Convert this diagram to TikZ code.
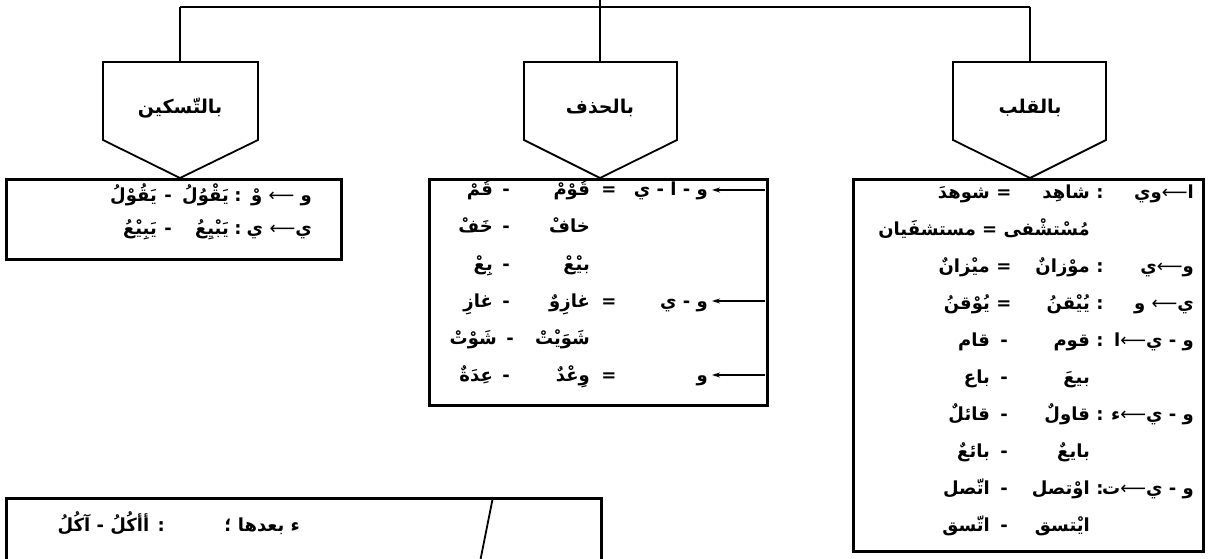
\documentclass[tikz,border=0pt]{standalone}
\usepackage{fontspec}
\newfontfamily\arabicfont[Script=Arabic]{DejaVu Sans Bold}
\newfontfamily\arrowfont{DejaVu Sans}
\TeXXeTstate=1
\usetikzlibrary{arrows.meta}
\newcommand{\AR}[1]{\beginR #1\endR}
\newcommand{\LA}{{\arrowfont ⟵}}
\tikzset{
  boxline/.style={draw, line width=2.6pt, inner sep=0pt, anchor=north west},
  pentline/.style={draw, line width=1.8pt, line join=miter},
  conn/.style={line width=2pt},
  ar/.style={font=\arabicfont\fontsize{18}{21}\selectfont, inner sep=0pt, anchor=base east},
  arc/.style={font=\arabicfont\fontsize{18}{21}\selectfont, inner sep=0pt, anchor=base},
  lbl/.style={font=\arabicfont\fontsize{19}{21}\selectfont, inner sep=0pt},
  tarrow/.style={line width=1.1pt, -{Stealth[length=8pt,width=5pt]}},
}
\begin{document}
\begin{tikzpicture}[x=1pt,y=-1pt]
\useasboundingbox (0,0) rectangle (1208,559);
\clip (0,0) rectangle (1208,559);

% ---- top connectors
\coordinate (top) at (600,0);
\coordinate (hm) at (600,7);
\coordinate (hl) at (180,7);
\coordinate (hr) at (1030,7);
\coordinate (pL) at (180,62);
\coordinate (pM) at (600,62);
\coordinate (pR) at (1030,62);
\draw[conn] (top) -- (hm);
\draw[conn] (hl) -- (hr);
\draw[conn] (hl) -- (pL);
\draw[conn] (hm) -- (pM);
\draw[conn] (hr) -- (pR);

% ---- pentagons
\draw[pentline] (103,62) -- (258,62) -- (258,140) -- (180,178) -- (103,140) -- cycle;
\draw[pentline] (524,62) -- (677,62) -- (677,140) -- (600,178) -- (524,140) -- cycle;
\draw[pentline] (953,62) -- (1106,62) -- (1106,140) -- (1030,178) -- (953,140) -- cycle;
\node[lbl] (lblL) at (180,108) {\AR{بالتّسكين}};
\node[lbl] (lblM) at (600,108) {\AR{بالحذف}};
\node[lbl] (lblR) at (1030,108) {\AR{بالقلب}};

% ---- boxes
\node[boxline, minimum width=335pt, minimum height=80pt] (lbox) at (5,178) {};
\node[boxline, minimum width=338pt, minimum height=226pt] (mbox) at (428,178) {};
\node[boxline, minimum width=350pt, minimum height=372pt] (rbox) at (852,178) {};
\node[boxline, minimum width=595pt, minimum height=120pt] (bbox) at (5,497) {};
\coordinate (sl1) at (493,497);
\coordinate (sl2) at (480,562);
\draw[line width=1.8pt] (sl1) -- (sl2);

% ---- left box
\node[ar] (l1r) at (312,201) {\AR{و \LA{} وْ}};
\node[arc] (l1c) at (238,201) {:};
\node[ar] (l1a) at (229,201) {\AR{يَقْوُلُ}};
\node[arc] (l1s) at (168,201) {-};
\node[ar] (l1b) at (157,201) {\AR{يَقُوْلُ}};
\node[ar] (l2r) at (312,234) {\AR{ي\LA{} ي}};
\node[arc] (l2c) at (238,234) {:};
\node[ar] (l2a) at (229,234) {\AR{يَبْيِعُ}};
\node[arc] (l2s) at (168,234) {-};
\node[ar] (l2b) at (157,234) {\AR{يَبِيْعُ}};

% ---- middle box
\coordinate (m1s) at (765,190); \coordinate (m1e) at (712,190);
\coordinate (m4s) at (765,301); \coordinate (m4e) at (712,301);
\coordinate (m6s) at (765,375); \coordinate (m6e) at (712,375);
\draw[tarrow] (m1s) -- (m1e);
\draw[tarrow] (m4s) -- (m4e);
\draw[tarrow] (m6s) -- (m6e);
\node[ar] (m1r) at (708,196) {\AR{و - ا - ي}};
\node[arc] (m1e2) at (609,196) {=};
\node[ar] (m1a) at (590,196) {\AR{قُوْمْ}};
\node[arc] (m1d) at (506,196) {-};
\node[ar] (m1b) at (493,196) {\AR{قُمْ}};
\node[ar] (m2a) at (590,233) {\AR{خافْ}};
\node[arc] (m2d) at (506,233) {-};
\node[ar] (m2b) at (493,233) {\AR{خَفْ}};
\node[ar] (m3a) at (590,270) {\AR{بيْعْ}};
\node[arc] (m3d) at (506,270) {-};
\node[ar] (m3b) at (493,270) {\AR{بِعْ}};
\node[ar] (m4r) at (708,307) {\AR{و - ي}};
\node[arc] (m4e2) at (609,307) {=};
\node[ar] (m4a) at (590,307) {\AR{غازِوٌ}};
\node[arc] (m4d) at (506,307) {-};
\node[ar] (m4b) at (493,307) {\AR{غازِ}};
\node[ar] (m5a) at (590,344) {\AR{شَوَيْتْ}};
\node[arc] (m5d) at (510,344) {-};
\node[ar] (m5b) at (497,344) {\AR{شَوْتْ}};
\node[ar] (m6r) at (708,381) {\AR{و}};
\node[arc] (m6e2) at (609,381) {=};
\node[ar] (m6a) at (590,381) {\AR{وِعْدٌ}};
\node[arc] (m6d) at (506,381) {-};
\node[ar] (m6b) at (493,381) {\AR{عِدَةٌ}};

% ---- right box
\node[ar] (q1r) at (1194,198) {\AR{ا\LA{}وي}};
\node[arc] (q1c) at (1100,198) {:};
\node[ar] (q1a) at (1090,198) {\AR{شاهِد}};
\node[arc] (q1s) at (1004,198) {=};
\node[ar] (q1b) at (990,198) {\AR{شوهدَ}};
\node[ar] (q2) at (1090,235) {\AR{مُسْتشْفى = مستشفَيان}};
\node[ar] (q3r) at (1194,272) {\AR{و\LA{}ي}};
\node[arc] (q3c) at (1100,272) {:};
\node[ar] (q3a) at (1090,272) {\AR{موْزانٌ}};
\node[arc] (q3s) at (1004,272) {=};
\node[ar] (q3b) at (990,272) {\AR{ميْزانٌ}};
\node[ar] (q4r) at (1194,309) {\AR{ي\LA{} و}};
\node[arc] (q4c) at (1100,309) {:};
\node[ar] (q4a) at (1090,309) {\AR{يُيْقنُ}};
\node[arc] (q4s) at (1004,309) {=};
\node[ar] (q4b) at (990,309) {\AR{يُوْقنُ}};
\node[ar] (q5r) at (1194,346) {\AR{و - ي\LA{}ا}};
\node[arc] (q5c) at (1100,346) {:};
\node[ar] (q5a) at (1090,346) {\AR{قوم}};
\node[arc] (q5s) at (1004,346) {-};
\node[ar] (q5b) at (990,346) {\AR{قام}};
\node[ar] (q6a) at (1090,383) {\AR{بيعَ}};
\node[arc] (q6s) at (1004,383) {-};
\node[ar] (q6b) at (990,383) {\AR{باع}};
\node[ar] (q7r) at (1194,420) {\AR{و - ي\LA{}ء}};
\node[arc] (q7c) at (1100,420) {:};
\node[ar] (q7a) at (1090,420) {\AR{قاولٌ}};
\node[arc] (q7s) at (1004,420) {-};
\node[ar] (q7b) at (990,420) {\AR{قائلٌ}};
\node[ar] (q8a) at (1090,457) {\AR{بايعٌ}};
\node[arc] (q8s) at (1004,457) {-};
\node[ar] (q8b) at (990,457) {\AR{بائعٌ}};
\node[ar] (q9r) at (1194,494) {\AR{و - ي\LA{}ت}};
\node[arc] (q9c) at (1100,494) {:};
\node[ar] (q9a) at (1090,494) {\AR{اوْتصل}};
\node[arc] (q9s) at (1004,494) {-};
\node[ar] (q9b) at (990,494) {\AR{اتّصل}};
\node[ar] (q10a) at (1090,531) {\AR{ايْتسق}};
\node[arc] (q10s) at (1004,531) {-};
\node[ar] (q10b) at (990,531) {\AR{اتّسق}};

% ---- bottom box
\node[ar] (b1) at (300,531) {\AR{ء بعدها ؛}};
\node[ar] (b2) at (165,531) {\AR{: أأكُلُ - آكُلُ}};
\end{tikzpicture}
\end{document}
